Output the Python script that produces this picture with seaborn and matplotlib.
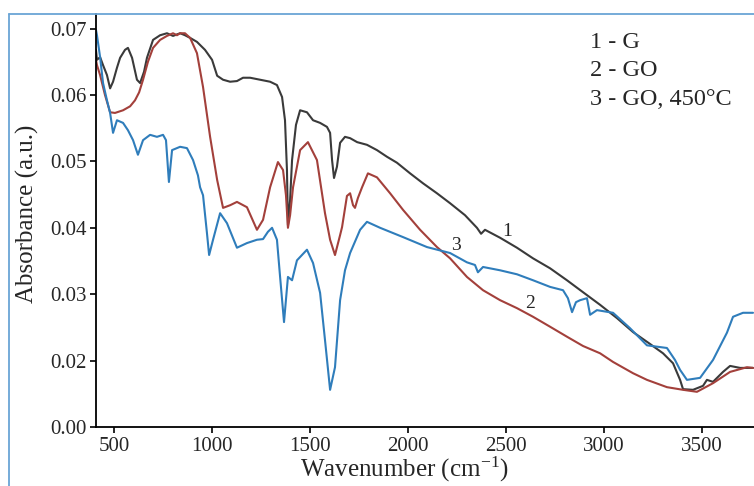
import numpy as np
import pandas as pd
import seaborn as sns
from matplotlib import pyplot as plt
from matplotlib.lines import Line2D

# FTIR spectra (wavenumber in cm-1, absorbance in a.u.)
wn_g = [408, 413, 429, 444, 464, 480, 495, 515, 531, 556, 571, 592, 617, 633, 653, 668, 699, 735,
        770, 801, 837, 862, 888, 923, 964, 1000, 1026, 1056, 1092, 1127, 1158, 1194, 1245, 1296,
        1331, 1357, 1372, 1382, 1387, 1398, 1408, 1428, 1449, 1484, 1515, 1551, 1586, 1602, 1612,
        1622, 1637, 1653, 1678, 1704, 1740, 1790, 1841, 1892, 1943, 2010, 2076, 2147, 2214, 2290,
        2351, 2372, 2392, 2469, 2555, 2637, 2724, 2810, 2892, 2979, 3065, 3147, 3234, 3300, 3351,
        3387, 3402, 3453, 3504, 3524, 3555, 3606, 3642, 3693, 3759]
abs_g = [0.0668, 0.0653, 0.0657, 0.0645, 0.0630, 0.0610, 0.0620, 0.0641, 0.0656, 0.0668, 0.0671,
         0.0656, 0.0623, 0.0618, 0.0635, 0.0656, 0.0683, 0.0690, 0.0693, 0.0689, 0.0693, 0.0690,
         0.0686, 0.0680, 0.0668, 0.0653, 0.0629, 0.0623, 0.0620, 0.0621, 0.0626, 0.0626, 0.0623,
         0.0620, 0.0615, 0.0597, 0.0562, 0.0487, 0.0404, 0.0442, 0.0502, 0.0555, 0.0577, 0.0574,
         0.0562, 0.0558, 0.0552, 0.0543, 0.0502, 0.0475, 0.0492, 0.0528, 0.0537, 0.0535, 0.0529,
         0.0525, 0.0517, 0.0507, 0.0498, 0.0482, 0.0467, 0.0452, 0.0437, 0.0419, 0.0400, 0.0391,
         0.0397, 0.0385, 0.0370, 0.0354, 0.0339, 0.0321, 0.0303, 0.0284, 0.0264, 0.0243, 0.0225,
         0.0211, 0.0196, 0.0171, 0.0157, 0.0156, 0.0162, 0.0171, 0.0168, 0.0183, 0.0192, 0.0189,
         0.0189]

wn_go = [408, 413, 429, 454, 480, 505, 546, 582, 607, 628, 648, 673, 699, 735, 770, 801, 821, 837,
         862, 888, 923, 954, 990, 1026, 1056, 1092, 1127, 1178, 1229, 1260, 1296, 1336, 1362, 1377,
         1387, 1398, 1413, 1449, 1489, 1535, 1576, 1602, 1627, 1653, 1663, 1688, 1704, 1719, 1729,
         1744, 1765, 1795, 1841, 1908, 1974, 2061, 2147, 2214, 2300, 2382, 2469, 2555, 2637, 2724,
         2810, 2892, 2979, 3045, 3147, 3218, 3320, 3402, 3473, 3555, 3642, 3728, 3759]
abs_go = [0.0653, 0.0645, 0.0630, 0.0600, 0.0574, 0.0573, 0.0577, 0.0583, 0.0592, 0.0604, 0.0623,
          0.0650, 0.0671, 0.0683, 0.0689, 0.0693, 0.0690, 0.0693, 0.0693, 0.0686, 0.0663, 0.0612,
          0.0537, 0.0472, 0.0430, 0.0434, 0.0439, 0.0431, 0.0397, 0.0412, 0.0461, 0.0499, 0.0487,
          0.0449, 0.0400, 0.0419, 0.0461, 0.0517, 0.0529, 0.0502, 0.0422, 0.0382, 0.0359, 0.0389,
          0.0401, 0.0448, 0.0452, 0.0434, 0.0430, 0.0445, 0.0461, 0.0482, 0.0476, 0.0452, 0.0427,
          0.0397, 0.0371, 0.0354, 0.0326, 0.0306, 0.0291, 0.0279, 0.0266, 0.0251, 0.0236, 0.0222,
          0.0211, 0.0198, 0.0181, 0.0171, 0.0160, 0.0156, 0.0153, 0.0166, 0.0183, 0.0190, 0.0189]

wn_go450 = [408, 413, 429, 444, 464, 480, 495, 515, 546, 571, 597, 622, 648, 684, 719, 750, 765,
            780, 796, 837, 872, 903, 928, 939, 954, 974, 985, 1005, 1041, 1076, 1127, 1178, 1229,
            1260, 1285, 1306, 1331, 1347, 1367, 1387, 1408, 1433, 1484, 1515, 1551, 1576, 1602,
            1627, 1653, 1678, 1704, 1755, 1790, 1857, 1974, 2096, 2214, 2300, 2341, 2356, 2382,
            2469, 2555, 2637, 2724, 2790, 2815, 2836, 2856, 2877, 2912, 2928, 2963, 3045, 3131,
            3218, 3320, 3361, 3387, 3422, 3489, 3555, 3626, 3657, 3708, 3759]
abs_go450 = [0.0698, 0.0690, 0.0657, 0.0618, 0.0592, 0.0573, 0.0543, 0.0562, 0.0558, 0.0547,
             0.0532, 0.0510, 0.0532, 0.0540, 0.0537, 0.0540, 0.0532, 0.0469, 0.0517, 0.0522,
             0.0520, 0.0502, 0.0479, 0.0461, 0.0449, 0.0392, 0.0359, 0.0382, 0.0422, 0.0407,
             0.0370, 0.0377, 0.0382, 0.0383, 0.0394, 0.0400, 0.0382, 0.0326, 0.0258, 0.0326,
             0.0321, 0.0351, 0.0367, 0.0347, 0.0302, 0.0231, 0.0156, 0.0190, 0.0291, 0.0336,
             0.0362, 0.0397, 0.0409, 0.0400, 0.0386, 0.0371, 0.0362, 0.0348, 0.0344, 0.0333,
             0.0341, 0.0336, 0.0330, 0.0321, 0.0311, 0.0306, 0.0294, 0.0273, 0.0288, 0.0291,
             0.0294, 0.0269, 0.0276, 0.0272, 0.0249, 0.0223, 0.0219, 0.0201, 0.0186, 0.0171,
             0.0174, 0.0201, 0.0242, 0.0266, 0.0272, 0.0272]

legend_lines = ['1 - G', '2 - GO', '3 - GO, 450°C']
curve_labels = ['1', '2', '3']
label_pos = [(2504, 0.0394), (2622, 0.0286), (2244, 0.0373)]

# the original axis skips 0.01: bottom tick is labelled 0.00
y_ticks = [0.01, 0.02, 0.03, 0.04, 0.05, 0.06, 0.07]
y_tick_labels = ['0.00', '0.02', '0.03', '0.04', '0.05', '0.06', '0.07']
x_ticks = [500, 1000, 1500, 2000, 2500, 3000, 3500]

colors = ['#3a3a3a', '#a3403b', '#2f7dbb']

sns.set_style('ticks')
plt.rcParams['font.family'] = ['Liberation Serif', 'DejaVu Serif']
plt.rcParams['mathtext.fontset'] = 'stix'

fig = plt.figure(figsize=(7.54, 4.86), dpi=100)
ax = fig.add_axes([0.1273, 0.1214, 0.8727, 0.8498])

for wn, ab, c in zip([wn_g, wn_go, wn_go450], [abs_g, abs_go, abs_go450], colors):
    df = pd.DataFrame({'wn': wn, 'abs': ab})
    sns.lineplot(data=df, x='wn', y='abs', color=c, linewidth=1.5, ax=ax, estimator=None, sort=False)

for lab, (xp, yp) in zip(curve_labels, label_pos):
    ax.text(xp, yp, lab, fontsize=14, ha='center', va='center')

for i, t in enumerate(legend_lines):
    ax.text(0.7508, 0.932 - i * 0.069, t, transform=ax.transAxes, fontsize=17.5, ha='left', va='center')

ax.set_xlim(408, 3764)
ax.set_ylim(0.01, 0.0722)
ax.set_xticks(x_ticks)
ax.set_yticks(y_ticks)
ax.set_yticklabels(y_tick_labels)
ax.tick_params(labelsize=15, direction='out', length=4, width=1.2, color='black', pad=3)

ax.set_xlabel(r'Wavenumber (cm$^{\mathregular{-1}}$)', fontsize=18)
ax.set_ylabel('Absorbance (a.u.)', fontsize=18)
ax.xaxis.set_label_coords(0.4696, -0.066)
ax.yaxis.set_label_coords(-0.086, 0.516)

for s in ['top', 'right']:
    ax.spines[s].set_visible(False)
for s in ['left', 'bottom']:
    ax.spines[s].set_color('black')
    ax.spines[s].set_linewidth(1.3)

# light blue frame round the original figure
fig.add_artist(Line2D([0.0119, 0.0119], [0.0, 0.9712], color='#6aa5d6', lw=1.3, transform=fig.transFigure))
fig.add_artist(Line2D([0.0119, 1.0], [0.9712, 0.9712], color='#6aa5d6', lw=1.3, transform=fig.transFigure))

plt.savefig('out.png', dpi=100)
